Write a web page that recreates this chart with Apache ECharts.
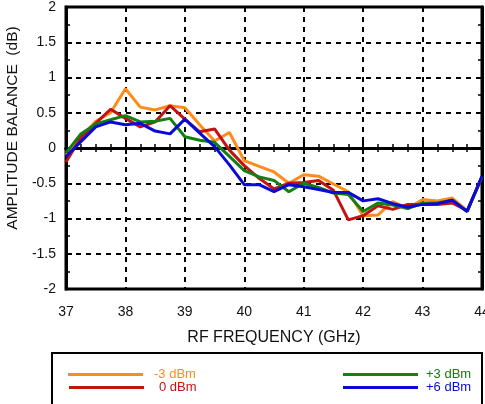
<!DOCTYPE html>
<html><head><meta charset="utf-8">
<script src="https://cdn.jsdelivr.net/npm/echarts@6/dist/echarts.min.js"></script>
<style>html,body{margin:0;padding:0;background:#fff}#c{width:485px;height:404px}</style>
</head><body><div id="c"></div>
<script>
const freqs = [37,37.25,37.5,37.75,38,38.25,38.5,38.75,39,39.25,39.5,39.75,40,40.25,40.5,40.75,41,41.25,41.5,41.75,42,42.25,42.5,42.75,43,43.25,43.5,43.75,44];
const seriesNames = ['-3 dBm','0 dBm','+3 dBm','+6 dBm'];
const m3 = [-0.1,0.15,0.38,0.5,0.84,0.58,0.54,0.6,0.57,0.33,0.1,0.22,-0.18,-0.26,-0.34,-0.5,-0.38,-0.4,-0.51,-0.62,-0.96,-0.95,-0.76,-0.86,-0.73,-0.75,-0.71,-0.89,-0.41];
const p0 = [-0.2,0.15,0.35,0.55,0.42,0.3,0.37,0.6,0.41,0.23,0.27,-0.03,-0.25,-0.43,-0.58,-0.5,-0.49,-0.46,-0.6,-1.02,-0.96,-0.82,-0.87,-0.8,-0.8,-0.8,-0.78,-0.89,-0.41];
const p3 = [-0.07,0.2,0.34,0.4,0.46,0.37,0.38,0.42,0.16,0.11,0.08,-0.12,-0.32,-0.41,-0.46,-0.62,-0.5,-0.56,-0.64,-0.66,-0.9,-0.78,-0.81,-0.86,-0.78,-0.78,-0.74,-0.9,-0.41];
const p6 = [-0.12,0.09,0.3,0.37,0.33,0.35,0.24,0.2,0.41,0.21,0.02,-0.24,-0.52,-0.52,-0.62,-0.52,-0.55,-0.59,-0.63,-0.63,-0.75,-0.72,-0.79,-0.84,-0.8,-0.79,-0.74,-0.9,-0.4];
const colors = ['#FF8C1A','#C41212','#128012','#0A0AD8'];
const values = [m3,p0,p3,p6];
const legendPos = [[68,368],[69,381],[343,368],[343,381]];
const legendTextPad = [6,10,3,3];

const chart = echarts.init(document.getElementById('c'), null, {renderer:'canvas'});
const font = 'Liberation Sans, Arial, Helvetica, sans-serif';
const split = {show:true, lineStyle:{color:'#000', width:2, type:[5,5]}};
const axCommon = {
  axisLine:{show:true, lineStyle:{color:'#000', width:3}},
  axisTick:{show:true, inside:true, length:6, lineStyle:{color:'#000', width:2}},
  minorTick:{show:true, splitNumber:4, length:4, lineStyle:{color:'#000', width:1.5}},
};
const yMinor = {minorTick:{show:true, splitNumber:2, length:4, lineStyle:{color:'#000', width:1.5}}};
chart.setOption({
  animation:false,
  textStyle:{fontFamily:font},
  grid:{left:66, right:3, top:7, bottom:115, show:true, borderColor:'#000', borderWidth:3, containLabel:false, outerBoundsMode:'none'},
  xAxis:[
    Object.assign({type:'value', min:37, max:44, interval:1, position:'bottom',
      name:'RF FREQUENCY (GHz)', nameLocation:'middle', nameGap:41,
      nameTextStyle:{fontSize:16, color:'#111', fontFamily:font},
      axisLabel:{fontSize:14, color:'#111', margin:16, fontFamily:font, hideOverlap:false},
      splitLine:split}, axCommon),
    Object.assign({type:'value', min:37, max:44, interval:1, position:'top',
      axisLabel:{show:false}, splitLine:{show:false}}, axCommon)
  ],
  yAxis:[
    Object.assign({type:'value', min:-2, max:2, interval:0.5, position:'left',
      name:'AMPLITUDE BALANCE  (dB)', nameLocation:'middle', nameGap:36,
      nameTextStyle:{fontSize:15.5, color:'#111', fontFamily:font, padding:[0,0,0,40]},
      axisLabel:{fontSize:14, color:'#111', margin:10, fontFamily:font},
      splitLine:split}, axCommon, yMinor),
    Object.assign({type:'value', min:-2, max:2, interval:0.5, position:'right',
      axisLabel:{show:false}, splitLine:{show:false}}, axCommon, yMinor)
  ],
  legend: seriesNames.map((n,k)=>({
    left:legendPos[k][0], top:legendPos[k][1], itemWidth:75, itemHeight:3, icon:'rect', padding:0, itemGap:0,
    textStyle:{fontSize:13, fontFamily:font, color:colors[k], padding:[0,0,0,legendTextPad[k]]},
    data:[{name:n}]
  })),
  graphic:[{type:'rect', shape:{x:52, y:353, width:430, height:70}, style:{fill:'none', stroke:'#000', lineWidth:2}, silent:true}],
  series: values.map((v,k)=>({
    name:seriesNames[k], type:'line', xAxisIndex:0, yAxisIndex:0, showSymbol:false, symbol:'none',
    lineStyle:{color:colors[k], width:3}, itemStyle:{color:colors[k]},
    data: freqs.map((f,i)=>[f, v[i]]), z: 3+k
  }))
});
</script></body></html>
